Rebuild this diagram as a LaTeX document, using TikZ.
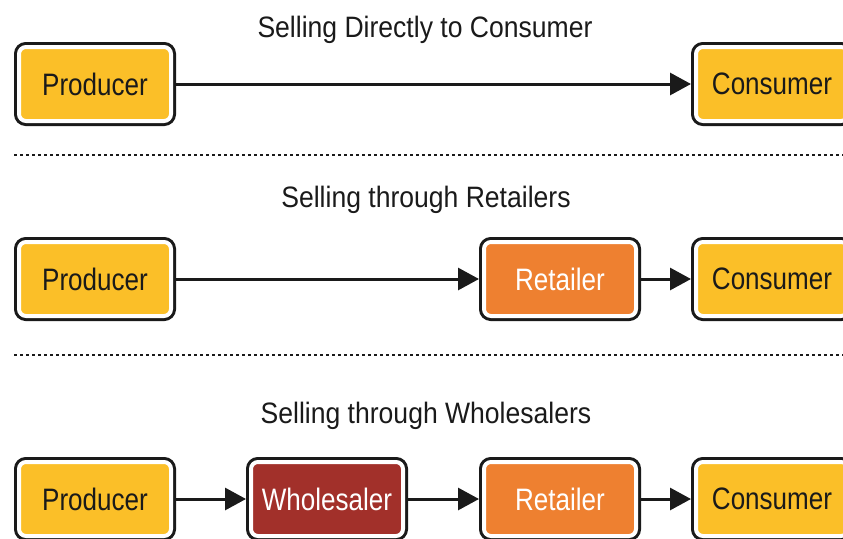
\documentclass[tikz,border=0pt]{standalone}
\usepackage{fontspec}
\setmainfont{Liberation Sans}[FakeStretch=0.9]
\newfontfamily\boxfont{Liberation Sans}[FakeStretch=0.84]
\usetikzlibrary{arrows.meta}
\definecolor{cyel}{HTML}{FBBF28}
\definecolor{corg}{HTML}{EE8030}
\definecolor{cred}{HTML}{A2302A}
\definecolor{cink}{HTML}{1A1A1A}
\tikzset{
  box/.style={draw=white, line width=4pt, rounded corners=7pt,
    preaction={draw=cink, line width=10pt},
    minimum width=152pt, minimum height=74pt, inner sep=0pt, outer sep=5pt,
    font=\boxfont\fontsize{31}{36}\selectfont},
  ybox/.style={box, fill=cyel, text=cink},
  obox/.style={box, fill=corg, text=white},
  rbox/.style={box, fill=cred, text=white},
  title/.style={anchor=base, text=cink, inner sep=0pt, font=\fontsize{29.5}{34}\selectfont},
  conn/.style={draw=cink, line width=3pt, -{Triangle[length=21pt,width=22pt]}},
  sep/.style={draw=cink, line width=2.6pt, dash pattern=on 2.6pt off 3.4pt}
}
\begin{document}
\begin{tikzpicture}[x=1pt,y=-1pt]
\useasboundingbox (0,0) rectangle (843,538);
\clip (0,0) rectangle (843,538);
\fill[white] (0,0) rectangle (843,538);
% titles
\node[title] (t1) at (425,37) {Selling Directly to Consumer};
\node[title] (t2) at (426,207) {Selling through Retailers};
\node[title] (t3) at (426,423) {Selling through Wholesalers};
% separators
\coordinate (s1a) at (14,155); \coordinate (s1b) at (845,155);
\coordinate (s2a) at (14,355); \coordinate (s2b) at (845,355);
\draw[sep] (s1a) -- (s1b);
\draw[sep] (s2a) -- (s2b);
% row 1
\node[ybox] (p1) at (95,84) {Producer};
\node[ybox] (c1) at (772,84) {Consumer};
\draw[conn] (p1) -- (c1);
% row 2
\node[ybox] (p2) at (95,279) {Producer};
\node[obox] (r2) at (560,279) {Retailer};
\node[ybox] (c2) at (772,279) {Consumer};
\draw[conn] (p2) -- (r2);
\draw[conn] (r2) -- (c2);
% row 3
\node[ybox] (p3) at (95,499) {Producer};
\node[rbox] (w3) at (327,499) {Wholesaler};
\node[obox] (r3) at (560,499) {Retailer};
\node[ybox] (c3) at (772,499) {Consumer};
\draw[conn] (p3) -- (w3);
\draw[conn] (w3) -- (r3);
\draw[conn] (r3) -- (c3);
\end{tikzpicture}
\end{document}
